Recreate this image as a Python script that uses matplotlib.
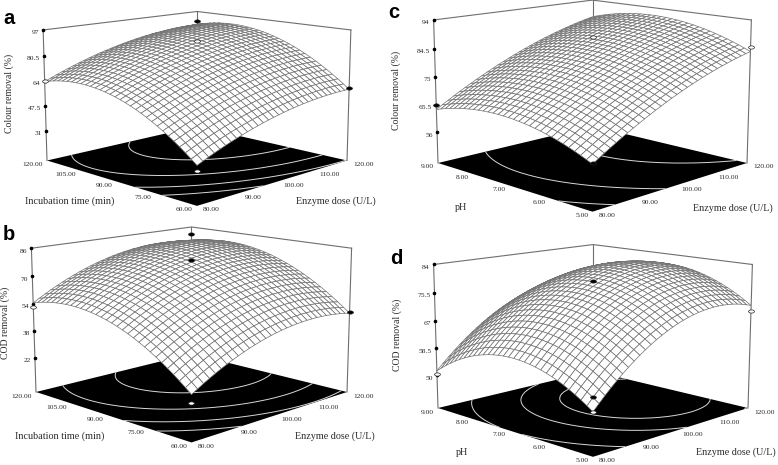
import numpy as np
import matplotlib
matplotlib.use("Agg")
import matplotlib.pyplot as plt
from matplotlib.path import Path
from matplotlib.transforms import Affine2D
from mpl_toolkits.mplot3d import proj3d

# Values: surface height along the two front edges of each
# mesh (31 nodes). Surface = edge_dose + edge_other - corner value.
enzyme_ticks = [80, 90, 100, 110, 120]
time_ticks = [120, 105, 90, 75, 60]
ph_ticks = [9, 8, 7, 6, 5]

a_edge_dose = [34.5, 36.07, 37.59, 39.06, 40.47, 41.83, 43.14, 44.39, 45.59, 46.74, 47.83, 48.87, 49.86, 50.79, 51.67, 52.5,
               53.27, 53.99, 54.66, 55.27, 55.83, 56.34, 56.79, 57.19, 57.54, 57.83, 58.07, 58.26, 58.39, 58.47, 58.5]
a_edge_other = [34.5, 37.34, 40.04, 42.62, 45.07, 47.39, 49.58, 51.65, 53.57, 55.38, 57.06, 58.6, 60.02, 61.31, 62.47, 63.5,
                64.41, 65.17, 65.82, 66.34, 66.72, 66.98, 67.11, 67.11, 66.98, 66.73, 66.33, 65.82, 65.18, 64.4, 63.5]
a_zticks = [97, 80.5, 64, 47.5, 31]
a_levels = [50, 59, 70, 82]

b_edge_dose = [26.4, 28.42, 30.36, 32.2, 33.95, 35.63, 37.2, 38.69, 40.09, 41.4, 42.62, 43.76, 44.8, 45.75, 46.63, 47.4,
               48.09, 48.69, 49.2, 49.62, 49.96, 50.2, 50.35, 50.43, 50.4, 50.29, 50.09, 49.8, 49.42, 48.96, 48.4]
b_edge_other = [26.4, 29.13, 31.75, 34.24, 36.6, 38.85, 40.96, 42.95, 44.82, 46.56, 48.17, 49.67, 51.04, 52.28, 53.41, 54.4,
                55.27, 56.02, 56.64, 57.13, 57.51, 57.76, 57.88, 57.89, 57.76, 57.51, 57.14, 56.64, 56.01, 55.27, 54.4]
b_zticks = [86, 70, 54, 38, 22]
b_levels = [41, 51, 63, 75]

c_edge_dose = [59.7, 60.88, 62.04, 63.16, 64.26, 65.34, 66.38, 67.4, 68.4, 69.36, 70.3, 71.22, 72.1, 72.96, 73.8, 74.6,
               75.38, 76.14, 76.86, 77.56, 78.24, 78.88, 79.5, 80.1, 80.66, 81.2, 81.72, 82.2, 82.66, 83.1, 83.5]
c_edge_other = [59.7, 60.55, 61.35, 62.1, 62.8, 63.46, 64.06, 64.62, 65.12, 65.58, 65.99, 66.35, 66.66, 66.92, 67.14, 67.3,
                67.42, 67.48, 67.5, 67.47, 67.39, 67.26, 67.08, 66.86, 66.58, 66.26, 65.88, 65.46, 64.99, 64.47, 63.9]
c_zticks = [94, 84.5, 75, 65.5, 56]
c_levels = [64, 73, 85]

d_edge_dose = [52.0, 53.81, 55.55, 57.2, 58.77, 60.27, 61.68, 63.01, 64.27, 65.44, 66.53, 67.55, 68.48, 69.33, 70.11, 70.8,
               71.41, 71.95, 72.4, 72.77, 73.07, 73.28, 73.41, 73.47, 73.44, 73.33, 73.15, 72.88, 72.53, 72.11, 71.6]
d_edge_other = [52.0, 53.2, 54.32, 55.36, 56.31, 57.18, 57.96, 58.66, 59.27, 59.8, 60.24, 60.6, 60.88, 61.07, 61.18, 61.2,
                61.14, 60.99, 60.76, 60.44, 60.04, 59.56, 58.99, 58.34, 57.6, 56.78, 55.87, 54.88, 53.8, 52.64, 51.4]
d_zticks = [84, 75.5, 67, 58.5, 50]
d_levels = [61, 72, 78]

# design points: (enzyme, other factor, response)
a_dark = [(100, 90, 103), (120, 60, 59)]
a_light = [(80, 120, 64), (80, 60, 31), (100, 90, 90)]
b_dark = [(100, 90, 94), (100, 90, 79), (120, 60, 49)]
b_light = [(80, 120, 52), (80, 60, 22)]
c_dark = [(80, 9, 65.5), (80, 5, 60)]
c_light = [(120, 5, 85), (100, 7, 88.5)]
d_dark = [(100, 7, 79), (80, 5, 56)]
d_light = [(80, 9, 50.5), (80, 5, 52), (120, 5, 70)]

W, H = 778, 465
fig = plt.figure(figsize=(W / 100, H / 100), dpi=100)
plt.rcParams['font.family'] = ['Liberation Serif', 'DejaVu Serif']
oval = Path.unit_circle().transformed(Affine2D().scale(1, 0.55))
text_c = '#2a2a2a'


def put_text(x, y, s, **kw):
    fig.text(x / W, 1 - y / H, s, ha='center', va='center', color=text_c, **kw)


def to_pixels(ax, x, y, z):
    xs, ys, _ = proj3d.proj_transform(np.atleast_1d(x), np.atleast_1d(y), np.atleast_1d(z), ax.get_proj())
    return ax.transData.transform(np.c_[xs, ys])


def fit_to_pixels(ax, xlim, ylim, zmin, left_px, right_px):
    # moves the square 3d axes so the floor corners land where they are in the picture
    fig.canvas.draw()
    pts = to_pixels(ax, [xlim[0], xlim[1]], [ylim[1], ylim[0]], [zmin, zmin])
    box = ax.get_position()
    ll = np.array([box.x0 * W, box.y0 * H])
    size = box.width * W
    k = (right_px[0] - left_px[0]) / (pts[1, 0] - pts[0, 0])
    target = np.array([(left_px[0] + right_px[0]) / 2, H - (left_px[1] + right_px[1]) / 2])
    new_ll = target - (pts.mean(axis=0) - ll) * k
    ax.set_position([new_ll[0] / W, new_ll[1] / H, size * k / W, size * k / H])
    fig.canvas.draw()


def tick_label(ax, x, y, z, s, dx, dy, ha):
    p = to_pixels(ax, x, y, z)[0]
    fig.text((p[0] + dx) / W, (p[1] + dy) / H, s, fontsize=5.4, ha=ha, va='center', color=text_c)


def draw_panel(letter, letter_px, edge_dose, edge_other, other_ticks, zticks, zlim, levels, dark, light,
               elev, aspect, left_px, right_px, ylabel, ylabel_px, other_label, other_px, dose_px):
    ax = fig.add_axes([0, 0, 0.4, 0.4 * W / H], projection='3d', computed_zorder=False)
    ax.set_axis_off()
    ax.patch.set_visible(False)
    xlim = (enzyme_ticks[0], enzyme_ticks[-1])
    ylim = (other_ticks[-1], other_ticks[0])
    zmin, zmax = zlim
    ax.set_xlim(*xlim)
    ax.set_ylim(*ylim)
    ax.set_zlim(*zlim)
    ax.set_box_aspect((1, 1, aspect))
    ax.set_proj_type('persp', focal_length=0.6)
    ax.view_init(elev=elev, azim=-135)

    x_nodes = np.linspace(xlim[0], xlim[1], len(edge_dose))
    y_nodes = np.linspace(ylim[0], ylim[1], len(edge_other))
    X, Y = np.meshgrid(x_nodes, y_nodes)
    Z = np.add.outer(np.array(edge_other), np.array(edge_dose)) - edge_dose[0]

    fx, fy = np.meshgrid(xlim, ylim)
    ax.plot_surface(fx, fy, np.full(fx.shape, zmin), color='black', shade=False, linewidth=0, zorder=1)
    ax.contour(X, Y, Z, levels=levels, zdir='z', offset=zmin, colors='#d8d8d8', linewidths=0.7, zorder=2)

    # back walls of the box
    box_c = '#6e6e6e'
    ax.plot([xlim[0], xlim[0]], [ylim[1], ylim[1]], zlim, color=box_c, lw=0.8, zorder=3)
    ax.plot([xlim[1], xlim[1]], [ylim[0], ylim[0]], zlim, color=box_c, lw=0.8, zorder=3)
    ax.plot([xlim[1], xlim[1]], [ylim[1], ylim[1]], zlim, color=box_c, lw=0.8, zorder=3)
    ax.plot([xlim[0], xlim[1], xlim[1]], [ylim[1], ylim[1], ylim[0]], [zmax, zmax, zmax], color=box_c, lw=0.8, zorder=3)
    ax.plot([xlim[0]] * len(zticks), [ylim[1]] * len(zticks), zticks, ls='none', marker='o', ms=1.6, color='black', zorder=3)

    ax.plot_surface(X, Y, Z, rstride=1, cstride=1, color='white', edgecolor='#707070', linewidth=0.5,
                    shade=False, zorder=4)

    for pts, face in ((dark, 'black'), (light, 'white')):
        px, py, pz = zip(*pts)
        ax.plot(px, py, pz, ls='none', marker=oval, ms=4.2, mfc=face, mec='#222222', mew=0.5, zorder=5)

    fit_to_pixels(ax, xlim, ylim, zmin, left_px, right_px)

    for t in enzyme_ticks:
        tick_label(ax, t, ylim[0], zmin, f"{t:.2f}", 6, -4, 'left')
    for t in other_ticks:
        tick_label(ax, xlim[0], t, zmin, f"{t:.2f}", -4, -4, 'right')
    for t in zticks:
        tick_label(ax, xlim[0], ylim[1], t, f"{t:g}", -4, -3, 'right')

    put_text(*ylabel_px, ylabel, fontsize=7.0, rotation=90)
    put_text(*other_px, other_label, fontsize=7.3)
    put_text(*dose_px, "Enzyme dose (U/L)", fontsize=7.3)
    fig.text(letter_px[0] / W, 1 - letter_px[1] / H, letter, family='Liberation Sans', weight='bold',
             fontsize=14.5, ha='left', va='center', color='black')


draw_panel('a', (3, 19), a_edge_dose, a_edge_other, time_ticks, a_zticks, (11, 97), a_levels, a_dark, a_light,
           11.5, 0.62, (47, 161), (347, 160), "Colour removal (%)", (9, 93),
           "Incubation time (min)", (70, 201), (336, 201))
draw_panel('b', (3, 234), b_edge_dose, b_edge_other, time_ticks, b_zticks, (1.4, 86), b_levels, b_dark, b_light,
           12.5, 0.66, (36, 392), (347, 392), "COD removal (%)", (5, 323),
           "Incubation time (min)", (60, 436), (335, 436))
draw_panel('c', (388, 13), c_edge_dose, c_edge_other, ph_ticks, c_zticks, (45.4, 94), c_levels, c_dark, c_light,
           12, 0.66, (438, 163), (747, 163), "Colour removal (%)", (396, 90),
           "pH", (461, 208), (733, 208))
draw_panel('d', (390, 258), d_edge_dose, d_edge_other, ph_ticks, d_zticks, (39.7, 84), d_levels, d_dark, d_light,
           12, 0.66, (438, 408), (748, 408), "COD removal (%)", (397, 335),
           "pH", (462, 452), (736, 452))

fig.savefig("out.png", dpi=100)
